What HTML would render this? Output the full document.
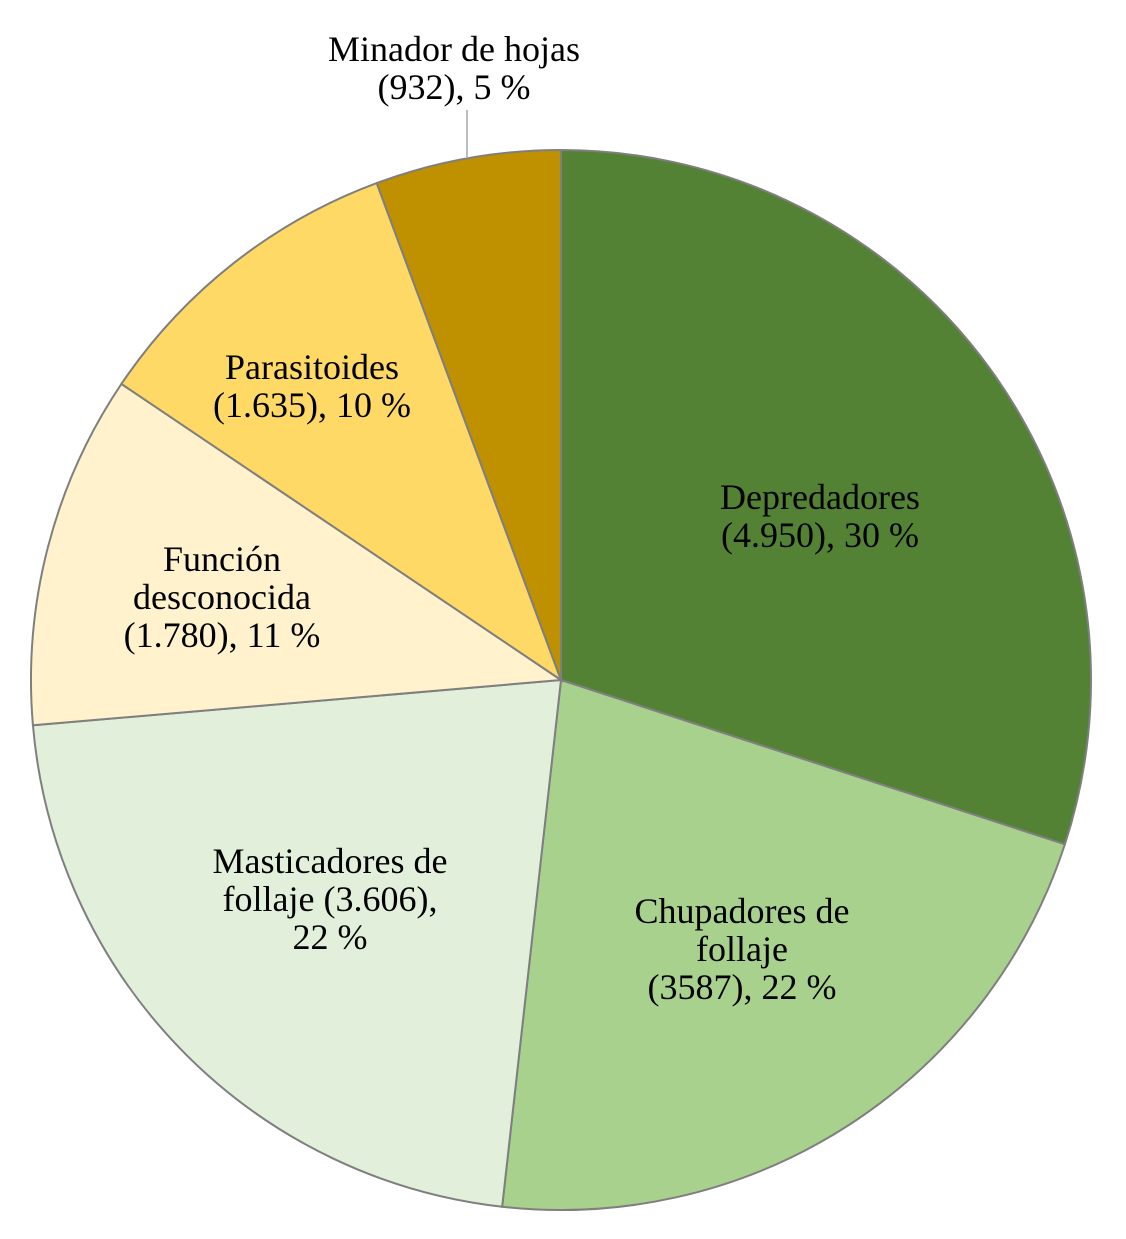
<!DOCTYPE html>
<html><head><meta charset="utf-8">
<style>
html,body{margin:0;padding:0;background:#fff;}
svg text{font-family:"Liberation Serif",serif;font-size:36px;fill:#000;}
</style></head>
<body>
<svg id="chart" width="1126" height="1234" viewBox="0 0 1126 1234" xmlns="http://www.w3.org/2000/svg">
<line x1="467" y1="110" x2="467" y2="157" stroke="#a6a6a6" stroke-width="1.5"/>
<g id="slices"></g>
<g id="labels"></g>
</svg>
<script>
const categories = ["Depredadores","Chupadores de follaje","Masticadores de follaje","Función desconocida","Parasitoides","Minador de hojas"];
const values = [4950, 3587, 3606, 1780, 1635, 932];
const labelLines = [
  ["Depredadores","(4.950), 30 %"],
  ["Chupadores de","follaje","(3587), 22 %"],
  ["Masticadores de","follaje (3.606),","22 %"],
  ["Función","desconocida","(1.780), 11 %"],
  ["Parasitoides","(1.635), 10 %"],
  ["Minador de hojas","(932), 5 %"]
];
const colors = ["#548235","#a9d18e","#e2efda","#fff2cc","#ffd966","#bf9000"];
const labelPos = [[820,498],[742,912],[330,862],[222,560],[312,368],[454,50]];
const cx = 561, cy = 680, r = 530;
const NS = "http://www.w3.org/2000/svg";
const total = values.reduce((a,b)=>a+b,0);
function pt(a){ return [cx + r*Math.sin(a), cy - r*Math.cos(a)]; }
const gs = document.getElementById("slices");
const gl = document.getElementById("labels");
let a0 = 0;
values.forEach((v,i)=>{
  const a1 = a0 + v/total*2*Math.PI;
  const p0 = pt(a0), p1 = pt(a1);
  const large = (a1-a0) > Math.PI ? 1 : 0;
  const path = document.createElementNS(NS,"path");
  path.setAttribute("d",`M${cx},${cy} L${p0[0]},${p0[1]} A${r},${r} 0 ${large} 1 ${p1[0]},${p1[1]} Z`);
  path.setAttribute("fill",colors[i]);
  path.setAttribute("stroke","#7f7f7f");
  path.setAttribute("stroke-width","2");
  
  
  gs.appendChild(path);
  a0 = a1;
});
labelLines.forEach((lines,i)=>{
  const t = document.createElementNS(NS,"text");
  t.setAttribute("text-anchor","middle");
  
  
  lines.forEach((s,j)=>{
    const ts = document.createElementNS(NS,"tspan");
    ts.setAttribute("x", labelPos[i][0]);
    ts.setAttribute("y", labelPos[i][1] + 11 + j*38);
    ts.textContent = s;
    t.appendChild(ts);
  });
  gl.appendChild(t);
});
</script>
</body></html>
